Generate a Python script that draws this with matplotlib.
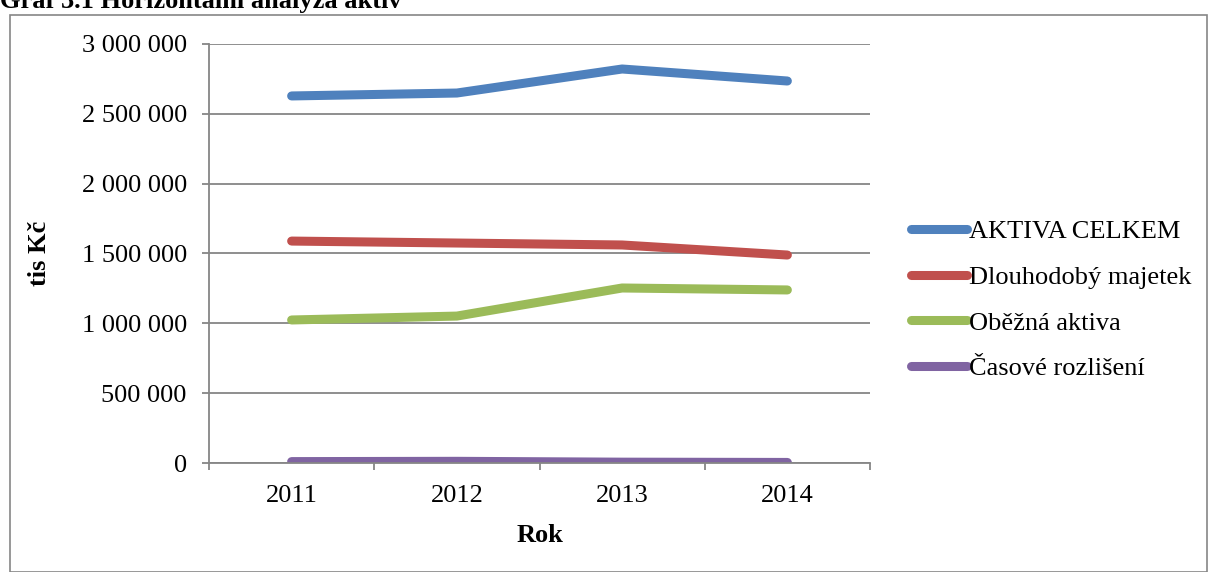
import numpy as np
import matplotlib.pyplot as plt
from matplotlib.patches import Rectangle
from matplotlib.ticker import FuncFormatter, FixedLocator

# data (tis Kč)
years = ["2011", "2012", "2013", "2014"]
aktiva_celkem = [2628000, 2649000, 2821000, 2735000]
dlouhodoby_majetek = [1589000, 1575000, 1561000, 1489000]
obezna_aktiva = [1024000, 1052000, 1253000, 1239000]
casove_rozliseni = [10000, 12000, 6000, 4000]

series = [
    ("AKTIVA CELKEM", aktiva_celkem, "#4F81BD"),
    ("Dlouhodobý majetek", dlouhodoby_majetek, "#C0504D"),
    ("Oběžná aktiva", obezna_aktiva, "#9BBB59"),
    ("Časové rozlišení", casove_rozliseni, "#8064A2"),
]

plt.rcParams["font.family"] = ["Liberation Serif", "DejaVu Serif"]
FS = 19

W, H = 1208, 572
fig = plt.figure(figsize=(W / 100, H / 100), dpi=100)

# outer chart border
fig.patches.append(Rectangle((10 / W, 0.5 / H), (1207 - 10) / W, (H - 15.5) / H,
                             transform=fig.transFigure, fill=False,
                             edgecolor="#868686", linewidth=1.2))

# title, partly cut off at the top of the image (as in the source)
fig.text(0.0, 1 - 8 / H, "Graf 3.1 Horizontální analýza aktiv", fontsize=FS,
         fontweight="bold", ha="left", va="baseline")

ax = fig.add_axes([209 / W, 109 / H, 661 / W, 419 / H])

x = np.arange(len(years))
for name, vals, col in series:
    ax.plot(x, vals, color=col, linewidth=6.5, solid_capstyle="round", label=name)

ax.set_xlim(-0.5, len(years) - 0.5)
ax.set_ylim(0, 3000000)
ax.set_yticks(np.arange(0, 3000001, 500000))
ax.yaxis.set_major_formatter(FuncFormatter(lambda v, p: f"{v:,.0f}".replace(",", " ")))
ax.set_xticks(x)
ax.set_xticklabels(years)
ax.xaxis.set_minor_locator(FixedLocator(np.arange(-0.5, len(years), 1.0)))

ax.grid(axis="y", color="#868686", linewidth=1.3)
ax.set_axisbelow(True)
for s in ["top", "right"]:
    ax.spines[s].set_visible(False)
for s in ["left", "bottom"]:
    ax.spines[s].set_color("#868686")
    ax.spines[s].set_linewidth(1.3)

ax.tick_params(axis="y", which="major", length=5, width=1.3, color="#868686",
               pad=11, labelsize=FS)
ax.tick_params(axis="x", which="major", length=0, pad=16, labelsize=FS)
ax.tick_params(axis="x", which="minor", length=5, width=1.3, color="#868686")

fig.text(540 / W, 1 - 535 / H, "Rok", fontsize=FS, fontweight="bold",
         ha="center", va="center")
fig.text(40 / W, 1 - 253 / H, "tis Kč", fontsize=FS, fontweight="bold",
         ha="center", va="center", rotation=90)

ax.legend(loc="center left", bbox_to_anchor=(887 / W, 1 - 300 / H),
          bbox_transform=fig.transFigure, frameon=False, fontsize=FS,
          handlelength=2.15, handletextpad=0.07, labelspacing=0.84)

fig.savefig("out.png", dpi=100)
